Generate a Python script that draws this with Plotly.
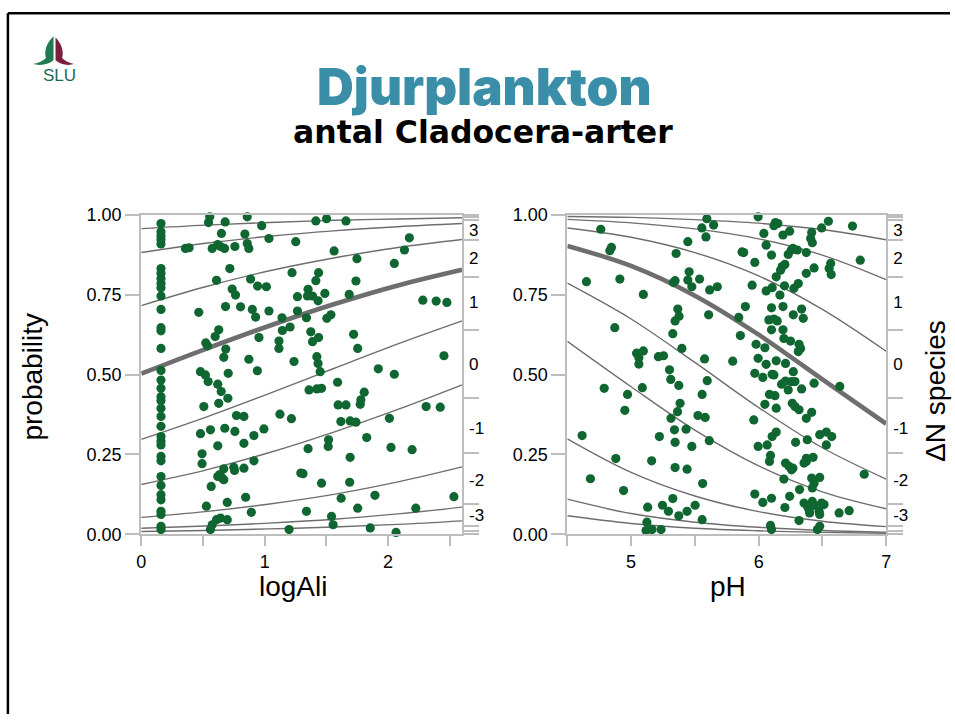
import re
import plotly.graph_objects as go

# ---------------- data ----------------
logali_pts = [0.16, 0.16, 0.16, 0.16, 0.16, 0.16, 0.16, 0.16, 0.16, 0.16, 0.16, 0.16,
              0.16, 0.16, 0.16, 0.16, 0.16, 0.16, 0.16, 0.16, 0.16, 0.16, 0.16, 0.16,
              0.16, 0.16, 0.16, 0.16, 0.16, 0.16, 0.16, 0.16, 0.16, 0.16, 0.16, 0.16,
              0.555, 0.545, 0.680, 0.859, 0.976, 0.650, 0.840, 1.035, 1.252, 0.358, 0.388, 0.575,
              0.620, 0.642, 0.675, 0.759, 0.859, 0.872, 0.718, 1.222, 0.886, 0.610, 0.943, 1.014,
              0.737, 0.764, 1.266, 0.466, 0.683, 0.805, 0.900, 0.927, 1.035, 1.266, 1.141, 0.628,
              0.599, 1.206, 1.144, 0.954, 0.523, 0.537, 1.116, 1.116, 0.685, 0.669, 0.872, 1.238,
              0.480, 0.520, 0.542, 0.705, 0.941, 0.620, 0.648, 0.702, 0.628, 0.507, 0.772, 0.832,
              1.124, 1.217, 0.480, 0.561, 0.677, 0.759, 0.913, 0.994, 0.620, 0.832, 0.493, 0.493,
              0.913, 0.669, 0.750, 0.756, 0.832, 0.620, 0.656, 0.669, 0.637, 1.293, 0.567, 0.846,
              0.528, 0.697, 0.892, 0.575, 0.610, 0.642, 0.697, 0.561, 1.198,
              1.415, 1.502, 1.659, 1.563, 2.173, 2.133, 1.748, 2.051, 1.437, 1.415, 1.740, 1.352,
              1.347, 1.388, 1.433, 1.488, 1.685, 2.282, 2.390, 2.477, 1.339, 1.504, 1.537, 1.374,
              1.388, 1.437, 1.721, 1.754, 1.423, 1.433, 1.450, 1.921, 2.051, 2.453, 1.360, 1.423,
              1.461, 1.591, 1.807, 1.780, 1.775, 1.596, 1.659, 2.309, 2.423, 1.618, 1.693, 1.740,
              2.011, 1.518, 1.515, 1.827, 1.352, 2.024, 2.195, 1.693, 1.311, 1.461, 1.689, 1.620,
              1.894, 2.534, 1.339, 1.754, 2.225, 1.542, 1.555, 1.856, 2.065]
logali_prob = [0.973, 0.947, 0.934, 0.922, 0.909, 0.832, 0.817, 0.801, 0.785, 0.772, 0.746, 0.704,
               0.647, 0.637, 0.582, 0.513, 0.483, 0.457, 0.431, 0.418, 0.395, 0.369, 0.338, 0.306,
               0.291, 0.280, 0.244, 0.230, 0.181, 0.153, 0.124, 0.108, 0.072, 0.062, 0.025, 0.015,
               0.994, 0.976, 0.978, 0.994, 0.966, 0.942, 0.940, 0.926, 0.916, 0.895, 0.897, 0.895,
               0.907, 0.901, 0.895, 0.901, 0.910, 0.895, 0.832, 0.819, 0.799, 0.795, 0.777, 0.775,
               0.768, 0.749, 0.744, 0.695, 0.713, 0.712, 0.704, 0.680, 0.699, 0.699, 0.678, 0.640,
               0.619, 0.649, 0.638, 0.616, 0.599, 0.590, 0.605, 0.582, 0.580, 0.554, 0.548, 0.541,
               0.509, 0.499, 0.478, 0.504, 0.512, 0.470, 0.447, 0.426, 0.410, 0.400, 0.372, 0.369,
               0.376, 0.362, 0.315, 0.327, 0.332, 0.322, 0.309, 0.330, 0.277, 0.285, 0.252, 0.221,
               0.230, 0.205, 0.210, 0.200, 0.207, 0.181, 0.176, 0.171, 0.187, 0.192, 0.150, 0.116,
               0.088, 0.100, 0.069, 0.030, 0.046, 0.051, 0.046, 0.015, 0.015,
               0.981, 0.988, 0.981, 0.887, 0.928, 0.890, 0.863, 0.848, 0.819, 0.794, 0.793, 0.767,
               0.746, 0.746, 0.731, 0.754, 0.751, 0.733, 0.730, 0.726, 0.678, 0.676, 0.687, 0.634,
               0.603, 0.616, 0.626, 0.582, 0.556, 0.535, 0.509, 0.518, 0.501, 0.559, 0.452, 0.455,
               0.457, 0.476, 0.445, 0.421, 0.407, 0.405, 0.405, 0.400, 0.398, 0.353, 0.355, 0.351,
               0.363, 0.296, 0.275, 0.303, 0.268, 0.272, 0.265, 0.241, 0.190, 0.160, 0.163, 0.113,
               0.122, 0.118, 0.072, 0.082, 0.082, 0.056, 0.030, 0.020, 0.006]

ph_pts = [4.762, 5.594, 5.555, 5.647, 5.587, 5.445, 5.870, 4.846, 4.833, 5.353, 5.455, 5.445,
          5.476, 5.537, 5.332, 5.345, 5.616, 5.676, 4.650, 4.912, 5.096, 5.366, 5.376, 5.345,
          5.608, 5.844, 4.872, 5.327, 5.857, 5.398, 5.043, 5.096, 5.061, 5.061, 5.214, 5.254,
          5.576, 5.797, 5.301,
          5.311, 5.374, 5.597, 4.789, 4.972, 5.088, 5.557, 4.951, 5.384, 5.364, 5.524, 5.581,
          5.313, 5.340, 5.431, 4.616, 5.222, 5.345, 5.476, 5.613, 4.880, 5.161, 5.345, 5.439,
          4.681, 4.941, 5.561, 5.327, 5.130, 5.246, 5.293, 5.374, 5.439, 5.502, 5.557, 5.124,
          5.117, 5.164, 5.235,
          5.996, 6.132, 6.120, 6.151, 6.041, 6.191, 6.243, 6.416, 6.408, 6.421, 6.494, 6.547,
          6.736, 6.059, 5.883, 5.970, 6.101, 6.232, 6.256, 6.303, 6.374, 6.269, 6.565, 6.553,
          6.569, 6.797, 6.185, 6.206, 6.172, 6.435, 6.374, 6.138, 5.949, 6.106, 6.059, 6.203,
          6.277, 6.311, 6.167, 5.896, 6.101, 6.191, 6.337, 6.272, 6.350, 6.080, 6.120, 6.146,
          6.101, 6.191, 6.198, 6.250, 6.317, 6.311, 6.329, 5.980, 6.049, 5.996, 6.059, 6.138,
          6.211, 5.970, 6.033, 6.106, 6.120, 6.180, 6.211, 6.232, 6.258, 6.285, 6.337, 6.272,
          6.435, 6.636, 6.085, 6.128, 6.049, 6.138, 6.264, 6.285, 6.317, 6.416, 6.374, 5.962,
          6.106, 6.138, 6.067, 5.996, 6.290, 6.382, 6.479, 6.531, 6.573, 6.531, 6.093, 6.085,
          6.211, 6.238, 6.258, 6.269, 6.374, 6.427, 6.356, 6.374, 6.198, 6.416, 6.435, 6.479,
          6.421, 6.828, 5.970, 6.033, 6.101, 6.243, 6.206, 6.321, 6.356, 6.382, 6.395, 6.421,
          6.435, 6.400, 6.474, 6.494, 6.513, 6.479, 6.631, 6.710, 6.317, 6.093, 6.101, 6.461,
          6.479]
ph_prob = [0.955, 0.988, 0.959, 0.968, 0.931, 0.916, 0.884, 0.898, 0.888, 0.879, 0.822, 0.796,
           0.775, 0.799, 0.788, 0.794, 0.765, 0.775, 0.791, 0.799, 0.751, 0.705, 0.683, 0.668,
           0.687, 0.679, 0.647, 0.628, 0.622, 0.582, 0.567, 0.574, 0.553, 0.533, 0.556, 0.559,
           0.549, 0.542, 0.515,
           0.485, 0.466, 0.481, 0.457, 0.438, 0.459, 0.438, 0.388, 0.410, 0.384, 0.372, 0.366,
           0.363, 0.327, 0.329, 0.309, 0.306, 0.288, 0.275, 0.293, 0.237, 0.230, 0.209, 0.204,
           0.174, 0.137, 0.159, 0.112, 0.085, 0.091, 0.072, 0.058, 0.072, 0.091, 0.046, 0.038,
           0.012, 0.015, 0.015,
           0.994, 0.976, 0.966, 0.973, 0.942, 0.937, 0.949, 0.945, 0.926, 0.913, 0.959, 0.980,
           0.965, 0.905, 0.882, 0.851, 0.874, 0.876, 0.890, 0.890, 0.882, 0.895, 0.848, 0.832,
           0.813, 0.858, 0.838, 0.845, 0.827, 0.834, 0.817, 0.806, 0.780, 0.772, 0.762, 0.778,
           0.770, 0.785, 0.749, 0.713, 0.709, 0.713, 0.705, 0.687, 0.676, 0.671, 0.674, 0.668,
           0.640, 0.640, 0.613, 0.605, 0.595, 0.572, 0.582, 0.595, 0.584, 0.551, 0.532, 0.543,
           0.535, 0.504, 0.491, 0.501, 0.499, 0.470, 0.480, 0.452, 0.478, 0.478, 0.455, 0.509,
           0.473, 0.463, 0.438, 0.434, 0.407, 0.395, 0.410, 0.400, 0.390, 0.382, 0.363, 0.358,
           0.306, 0.320, 0.280, 0.275, 0.288, 0.296, 0.312, 0.320, 0.306, 0.280, 0.247, 0.228,
           0.223, 0.213, 0.202, 0.207, 0.238, 0.241, 0.223, 0.228, 0.173, 0.176, 0.160, 0.178,
           0.145, 0.188, 0.126, 0.100, 0.113, 0.119, 0.084, 0.140, 0.098, 0.088, 0.077, 0.103,
           0.091, 0.067, 0.072, 0.098, 0.093, 0.062, 0.067, 0.074, 0.043, 0.028, 0.015, 0.015,
           0.025]

# fitted cumulative-probability curves
logali_grid = [0, 0.52, 1.04, 1.56, 2.08, 2.6]
logali_curves = [
    [0.957, 0.968, 0.976, 0.983, 0.987, 0.991],
    [0.882, 0.911, 0.933, 0.950, 0.963, 0.973],
    [0.716, 0.775, 0.825, 0.865, 0.898, 0.923],
    [0.503, 0.580, 0.653, 0.720, 0.779, 0.828],
    [0.297, 0.366, 0.441, 0.519, 0.596, 0.668],
    [0.156, 0.201, 0.256, 0.320, 0.391, 0.468],
    [0.053, 0.071, 0.095, 0.125, 0.164, 0.211],
    [0.019, 0.026, 0.035, 0.047, 0.064, 0.085],
    [0.009, 0.012, 0.017, 0.023, 0.031, 0.042],
]
ph_grid = [4.5, 5.0, 5.5, 6.0, 6.5, 7.0]
ph_curves = [
    [0.995, 0.992, 0.985, 0.974, 0.954, 0.922],
    [0.986, 0.975, 0.956, 0.925, 0.874, 0.797],
    [0.959, 0.930, 0.882, 0.809, 0.704, 0.573],
    [0.903, 0.840, 0.747, 0.625, 0.485, 0.346],
    [0.786, 0.674, 0.538, 0.397, 0.271, 0.173],
    [0.604, 0.462, 0.326, 0.214, 0.133, 0.080],
    [0.299, 0.194, 0.120, 0.071, 0.041, 0.024],
    [0.110, 0.065, 0.038, 0.022, 0.012, 0.007],
    [0.058, 0.034, 0.019, 0.011, 0.006, 0.0035],
]
thick_curve = 3

prob_ticks = [0, 0.25, 0.5, 0.75, 1.0]
prob_ticktext = ["0.00", "0.25", "0.50", "0.75", "1.00"]
logali_ticks = [0, 0.5, 1, 1.5, 2, 2.5]
logali_ticktext = ["0", "", "1", "", "2", ""]
ph_ticks = [4.5, 5, 5.5, 6, 6.5, 7]
ph_ticktext = ["", "5", "", "6", "", "7"]
species_bounds = [0, 0.009, 0.025, 0.094, 0.254, 0.426, 0.640, 0.806, 0.922, 0.984, 0.994, 1.0]
species_label_pos = [0.059, 0.170, 0.334, 0.532, 0.728, 0.866, 0.953]
species_labels = ["-3", "-2", "-1", "0", "1", "2", "3"]

# ---------------- layout helpers ----------------
W, H = 955, 724
# the photographed page appears slightly inset/scaled; place items so they land on target pixels
SX, OX = 0.987, 5.1
SY, OY = 0.974, 7.8
def fx(x): return ((x - OX) / SX) / W
def fy(y): return 1 - ((y - OY) / SY) / H

def to_paper(path):
    out, pair = [], []
    for t in re.findall(r'[MLCQZ]|-?\d+\.?\d*', path):
        if t.isalpha():
            out.append(t)
        else:
            pair.append(float(t))
            if len(pair) == 2:
                out.append(f"{fx(pair[0]):.5f},{fy(pair[1]):.5f}")
                pair = []
    return " ".join(out)

FONT = "Arial, Liberation Sans, sans-serif"
AXC = "#bdbdbd"
DOT = "#0f6630"
CURVE = "#6e6e6e"

fig = go.Figure()

for grid, curves, xa, ya in [(logali_grid, logali_curves, "x", "y"),
                             (ph_grid, ph_curves, "x2", "y2")]:
    for i, c in enumerate(curves):
        fig.add_trace(go.Scatter(
            x=grid, y=c, mode="lines", xaxis=xa, yaxis=ya, hoverinfo="skip",
            line=dict(color=CURVE, width=4.6 if i == thick_curve else 1.4,
                      shape="spline", smoothing=1.0)))

fig.add_trace(go.Scatter(x=logali_pts, y=logali_prob, mode="markers", xaxis="x", yaxis="y",
                         cliponaxis=False, marker=dict(color=DOT, size=9.2, line=dict(width=0))))
fig.add_trace(go.Scatter(x=ph_pts, y=ph_prob, mode="markers", xaxis="x2", yaxis="y2",
                         cliponaxis=False, marker=dict(color=DOT, size=9.2, line=dict(width=0))))

# dummy traces to realise the right-hand axes
for xa, ya in [("x", "y3"), ("x", "y4"), ("x2", "y5"), ("x2", "y6")]:
    fig.add_trace(go.Scatter(x=[None], y=[None], xaxis=xa, yaxis=ya, hoverinfo="skip"))

Ydom = [fy(533), fy(213)]
base = dict(showline=True, linecolor=AXC, linewidth=2, ticks="outside", tickcolor=AXC,
            tickwidth=2, showgrid=False, zeroline=False, fixedrange=True,
            tickfont=dict(family=FONT, size=18, color="black"))

def xax(dom, rng, tv, tt, anchor):
    return dict(base, domain=dom, range=rng, tickvals=tv, ticktext=tt, ticklen=10,
                mirror=True, anchor=anchor)

def yleft(anchor):
    return dict(base, domain=Ydom, range=[0, 1], tickvals=prob_ticks, ticktext=prob_ticktext,
                ticklen=14, anchor=anchor)

def yright_ticks(anchor, over):
    return dict(base, domain=Ydom, range=[0, 1], tickvals=species_bounds, ticklen=15,
                showticklabels=False, side="right", overlaying=over, anchor=anchor)

def yright_labels(anchor, over):
    return dict(showline=False, showgrid=False, zeroline=False, domain=Ydom, range=[0, 1],
                tickvals=species_label_pos, ticktext=species_labels, ticks="",
                side="right", overlaying=over, anchor=anchor, ticklabelstandoff=6,
                tickfont=dict(family=FONT, size=17, color="black"))

fig.update_layout(
    width=W, height=H, margin=dict(l=0, r=0, t=0, b=0),
    paper_bgcolor="white", plot_bgcolor="white", showlegend=False,
    xaxis=xax([fx(141), fx(461)], [0, 2.6], logali_ticks, logali_ticktext, "y"),
    xaxis2=xax([fx(566), fx(884)], [4.5, 7.0], ph_ticks, ph_ticktext, "y2"),
    yaxis=yleft("x"),
    yaxis2=yleft("x2"),
    yaxis3=yright_ticks("x", "y"),
    yaxis4=yright_labels("x", "y"),
    yaxis5=yright_ticks("x2", "y2"),
    yaxis6=yright_labels("x2", "y2"),
)

ann = [
    dict(text="Djurplankton", x=fx(483), y=fy(84), font=dict(family="Arial Black, Inter, Roboto, sans-serif",
         size=51, color="#3b8ea7", weight=900)),
    dict(text="antal Cladocera-arter", x=fx(482), y=fy(130),
         font=dict(family="DejaVu Sans, Verdana, sans-serif", size=31.5, color="black", weight="bold")),
    dict(text="probability", x=fx(33), y=fy(375), textangle=-90, font=dict(family=FONT, size=28, color="black")),
    dict(text="logAli", x=fx(292), y=fy(585), font=dict(family=FONT, size=28, color="black")),
    dict(text="pH", x=fx(726), y=fy(585), font=dict(family=FONT, size=28, color="black")),
    dict(text="\u0394N species", x=fx(933), y=fy(389), textangle=-90, font=dict(family=FONT, size=28, color="black")),
    dict(text="SLU", x=fx(59), y=fy(73), font=dict(family=FONT, size=17, color="#1b6b58")),
]
for a in ann:
    fig.add_annotation(xref="paper", yref="paper", showarrow=False, xanchor="center",
                       yanchor="middle", **a)

shapes = [
    dict(type="line", x0=fx(8), y0=fy(11), x1=1.0, y1=fy(11), line=dict(color="black", width=2.5)),
    dict(type="line", x0=fx(8), y0=fy(11), x1=fx(8), y1=0.0, line=dict(color="black", width=2.5)),
    dict(type="path", path=to_paper("M 53.5,34 C 46,41 44,50 46,56 C 43,59 39,61 33,62 C 41,64 50,62 53.5,58 Z"),
         fillcolor="#1f7a4e", line=dict(width=0)),
    dict(type="path", path=to_paper("M 55.5,35 C 62,42 64,50 62,56 C 65,59 69,61 74,62 C 67,64 59,62 55.5,58 Z"),
         fillcolor="#7b1f3f", line=dict(width=0)),
]
for s in shapes:
    fig.add_shape(xref="paper", yref="paper", layer="above", **s)

fig.write_html("out.html", config={"displayModeBar": False},
               post_script="document.body.style.margin='0';document.body.style.overflow='hidden';")
